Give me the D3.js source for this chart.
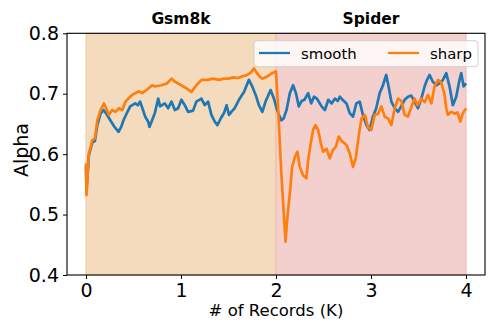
<!DOCTYPE html>
<html>
<head>
<meta charset="utf-8">
<script src="https://cdn.jsdelivr.net/npm/d3@7"></script>
<style>
  body { margin: 0; background: #fff; }
  text { font-family: "DejaVu Sans", sans-serif; fill: #000; }
</style>
</head>
<body>
<svg id="chart" width="498" height="332"></svg>
<script>
// dataset spans (thousands of records)
const spanNames = ["Gsm8k", "Spider"];
const spanStarts = [0, 2];
const spanEnds = [2, 4];
const spanColors = ["#f5dbbd", "#f3d0ce"];
const spanEdges = ["#efc9a2", "#eeb8b3"];

const xTicks = [0, 1, 2, 3, 4];
const yTicks = [0.4, 0.5, 0.6, 0.7, 0.8];

const seriesNames = ["smooth", "sharp"];
const seriesColors = ["#1f77b4", "#ff7f0e"];

// [records (K), alpha]
const smoothPts = [
  [0.000, 0.580], [0.005, 0.540], [0.030, 0.598], [0.066, 0.619], [0.094, 0.622],
  [0.119, 0.648], [0.153, 0.667], [0.185, 0.673], [0.210, 0.668], [0.256, 0.656],
  [0.300, 0.645], [0.343, 0.637], [0.370, 0.645], [0.395, 0.656], [0.430, 0.668],
  [0.465, 0.679], [0.518, 0.684], [0.545, 0.681], [0.570, 0.687], [0.600, 0.673],
  [0.623, 0.662], [0.654, 0.654], [0.668, 0.645], [0.710, 0.662], [0.725, 0.668],
  [0.760, 0.692], [0.780, 0.679], [0.830, 0.684], [0.865, 0.676], [0.900, 0.687],
  [0.935, 0.673], [0.970, 0.676], [1.004, 0.690], [1.040, 0.681], [1.075, 0.670],
  [1.127, 0.672], [1.162, 0.687], [1.215, 0.692], [1.250, 0.681], [1.285, 0.687],
  [1.320, 0.665], [1.355, 0.654], [1.383, 0.648], [1.418, 0.659], [1.453, 0.668],
  [1.480, 0.681], [1.505, 0.665], [1.530, 0.670], [1.565, 0.676], [1.610, 0.690],
  [1.663, 0.703], [1.715, 0.723], [1.750, 0.712], [1.786, 0.698], [1.820, 0.681],
  [1.856, 0.670], [1.890, 0.687], [1.943, 0.706], [1.978, 0.692], [2.006, 0.676],
  [2.030, 0.665], [2.058, 0.656], [2.080, 0.659], [2.111, 0.673], [2.146, 0.701],
  [2.180, 0.714], [2.210, 0.701], [2.240, 0.679], [2.270, 0.688], [2.300, 0.690],
  [2.338, 0.701], [2.370, 0.684], [2.400, 0.695], [2.430, 0.692], [2.480, 0.679],
  [2.515, 0.673], [2.550, 0.690], [2.585, 0.684], [2.620, 0.692], [2.650, 0.688],
  [2.671, 0.695], [2.700, 0.690], [2.742, 0.684], [2.776, 0.668], [2.810, 0.662],
  [2.846, 0.684], [2.881, 0.687], [2.915, 0.665], [2.952, 0.648], [2.986, 0.640],
  [3.020, 0.662], [3.055, 0.676], [3.091, 0.701], [3.126, 0.714], [3.160, 0.731],
  [3.185, 0.712], [3.214, 0.687], [3.250, 0.676], [3.285, 0.670], [3.320, 0.680],
  [3.354, 0.690], [3.390, 0.695], [3.424, 0.697], [3.459, 0.687], [3.494, 0.676],
  [3.530, 0.692], [3.564, 0.712], [3.590, 0.723], [3.617, 0.731], [3.650, 0.720],
  [3.687, 0.714], [3.720, 0.717], [3.757, 0.723], [3.792, 0.734], [3.827, 0.712],
  [3.862, 0.681], [3.897, 0.695], [3.932, 0.723], [3.950, 0.734], [3.975, 0.712],
  [4.000, 0.717]
];

const sharpPts = [
  [0.000, 0.585], [0.005, 0.532], [0.030, 0.601], [0.066, 0.623], [0.094, 0.626],
  [0.119, 0.656], [0.153, 0.673], [0.189, 0.684], [0.213, 0.676], [0.240, 0.665],
  [0.275, 0.673], [0.310, 0.670], [0.347, 0.676], [0.382, 0.673], [0.416, 0.687],
  [0.452, 0.693], [0.486, 0.698], [0.520, 0.701], [0.557, 0.704], [0.591, 0.701],
  [0.644, 0.707], [0.696, 0.714], [0.725, 0.712], [0.795, 0.714], [0.850, 0.717],
  [0.900, 0.725], [0.935, 0.720], [1.004, 0.714], [1.057, 0.709], [1.110, 0.703],
  [1.162, 0.714], [1.215, 0.723], [1.280, 0.723], [1.337, 0.725], [1.400, 0.723],
  [1.450, 0.725], [1.500, 0.725], [1.550, 0.727], [1.600, 0.726], [1.650, 0.729],
  [1.697, 0.731], [1.735, 0.735], [1.768, 0.742], [1.800, 0.734], [1.830, 0.728],
  [1.856, 0.725], [1.900, 0.728], [1.960, 0.734], [2.000, 0.737], [2.023, 0.673],
  [2.058, 0.563], [2.086, 0.491], [2.100, 0.455], [2.120, 0.496], [2.146, 0.535],
  [2.170, 0.579], [2.200, 0.596], [2.226, 0.604], [2.250, 0.579], [2.285, 0.565],
  [2.320, 0.560], [2.338, 0.590], [2.366, 0.618], [2.390, 0.640], [2.416, 0.648],
  [2.443, 0.640], [2.472, 0.618], [2.496, 0.604], [2.532, 0.609], [2.566, 0.593],
  [2.600, 0.607], [2.630, 0.612], [2.660, 0.629], [2.690, 0.622], [2.742, 0.615],
  [2.776, 0.601], [2.811, 0.579], [2.840, 0.594], [2.874, 0.634], [2.900, 0.659],
  [2.935, 0.665], [2.968, 0.645], [3.004, 0.640], [3.039, 0.665], [3.075, 0.667],
  [3.109, 0.679], [3.144, 0.662], [3.180, 0.659], [3.214, 0.648], [3.250, 0.676],
  [3.285, 0.692], [3.320, 0.688], [3.354, 0.665], [3.389, 0.662], [3.420, 0.676],
  [3.459, 0.692], [3.490, 0.681], [3.530, 0.692], [3.565, 0.686], [3.600, 0.698],
  [3.635, 0.684], [3.669, 0.712], [3.705, 0.723], [3.740, 0.718], [3.775, 0.698],
  [3.792, 0.676], [3.810, 0.665], [3.845, 0.670], [3.880, 0.667], [3.910, 0.669],
  [3.940, 0.654], [3.965, 0.667], [4.000, 0.676]
];

const svg = d3.select("#chart");
const margin = {left: 67, right: 13, top: 33.3, bottom: 57};
const W = 498, H = 332;

const x = d3.scaleLinear().domain([-0.2, 4.2]).range([margin.left, W - margin.right]);
const y = d3.scaleLinear().domain([0.4, 0.8]).range([H - margin.bottom, margin.top]);

// shaded dataset spans
spanNames.forEach(function(name, i) {
  svg.append("rect")
    .attr("x", x(spanStarts[i]))
    .attr("y", y(0.8))
    .attr("width", x(spanEnds[i]) - x(spanStarts[i]))
    .attr("height", y(0.4) - y(0.8))
    .attr("fill", spanColors[i])
    .attr("stroke", spanEdges[i])
    .attr("stroke-width", 1);
  svg.append("text")
    .attr("x", x((spanStarts[i] + spanEnds[i]) / 2))
    .attr("y", 24)
    .attr("text-anchor", "middle")
    .style("font-size", "15.5px")
    .style("font-weight", "bold")
    .text(name);
});

// lines
const line = d3.line().x(d => x(d[0])).y(d => y(d[1]));
[smoothPts, sharpPts].forEach(function(pts, i) {
  svg.append("path")
    .datum(pts)
    .attr("d", line)
    .attr("fill", "none")
    .attr("stroke", seriesColors[i])
    .attr("stroke-width", 2.7)
    .attr("stroke-linejoin", "round");
});

// axes
const xAxis = svg.append("g")
  .attr("transform", "translate(0," + (H - margin.bottom) + ")")
  .call(d3.axisBottom(x).tickValues(xTicks).tickFormat(d3.format("d")).tickSizeOuter(0).tickSize(4).tickPadding(5));
const yAxis = svg.append("g")
  .attr("transform", "translate(" + margin.left + ",0)")
  .call(d3.axisLeft(y).tickValues(yTicks).tickFormat(d3.format(".1f")).tickSizeOuter(0).tickSize(4).tickPadding(4));
[xAxis, yAxis].forEach(function(g) {
  g.select(".domain").remove();
  g.selectAll("line").attr("stroke", "#000").attr("stroke-width", 1);
  g.selectAll("text").style("font-size", "19px").style("font-family", "DejaVu Sans");
});

// frame
svg.append("rect")
  .attr("x", margin.left).attr("y", margin.top)
  .attr("width", W - margin.right - margin.left)
  .attr("height", H - margin.bottom - margin.top)
  .attr("fill", "none").attr("stroke", "#000").attr("stroke-width", 1.1);

// axis labels
svg.append("text")
  .attr("x", (margin.left + W - margin.right) / 2)
  .attr("y", 316)
  .attr("text-anchor", "middle")
  .style("font-size", "16.5px")
  .text("# of Records (K)");
svg.append("text")
  .attr("transform", "translate(28,150) rotate(-90)")
  .attr("text-anchor", "middle")
  .style("font-size", "19px")
  .text("Alpha");

// legend
const legend = svg.append("g");
legend.append("rect")
  .attr("x", 254).attr("y", 40.7).attr("width", 224).attr("height", 26)
  .attr("rx", 3)
  .attr("fill", "#fff").attr("fill-opacity", 0.8)
  .attr("stroke", "#d0d0d0").attr("stroke-width", 1);
const legendLineX = [259, 388];
const legendTextX = [301, 430];
seriesNames.forEach(function(name, i) {
  legend.append("line")
    .attr("x1", legendLineX[i]).attr("x2", legendLineX[i] + 31)
    .attr("y1", 53).attr("y2", 53)
    .attr("stroke", seriesColors[i]).attr("stroke-width", 2.3);
  legend.append("text")
    .attr("x", legendTextX[i]).attr("y", 58.5)
    .style("font-size", "14.9px")
    .text(name);
});
</script>
</body>
</html>
